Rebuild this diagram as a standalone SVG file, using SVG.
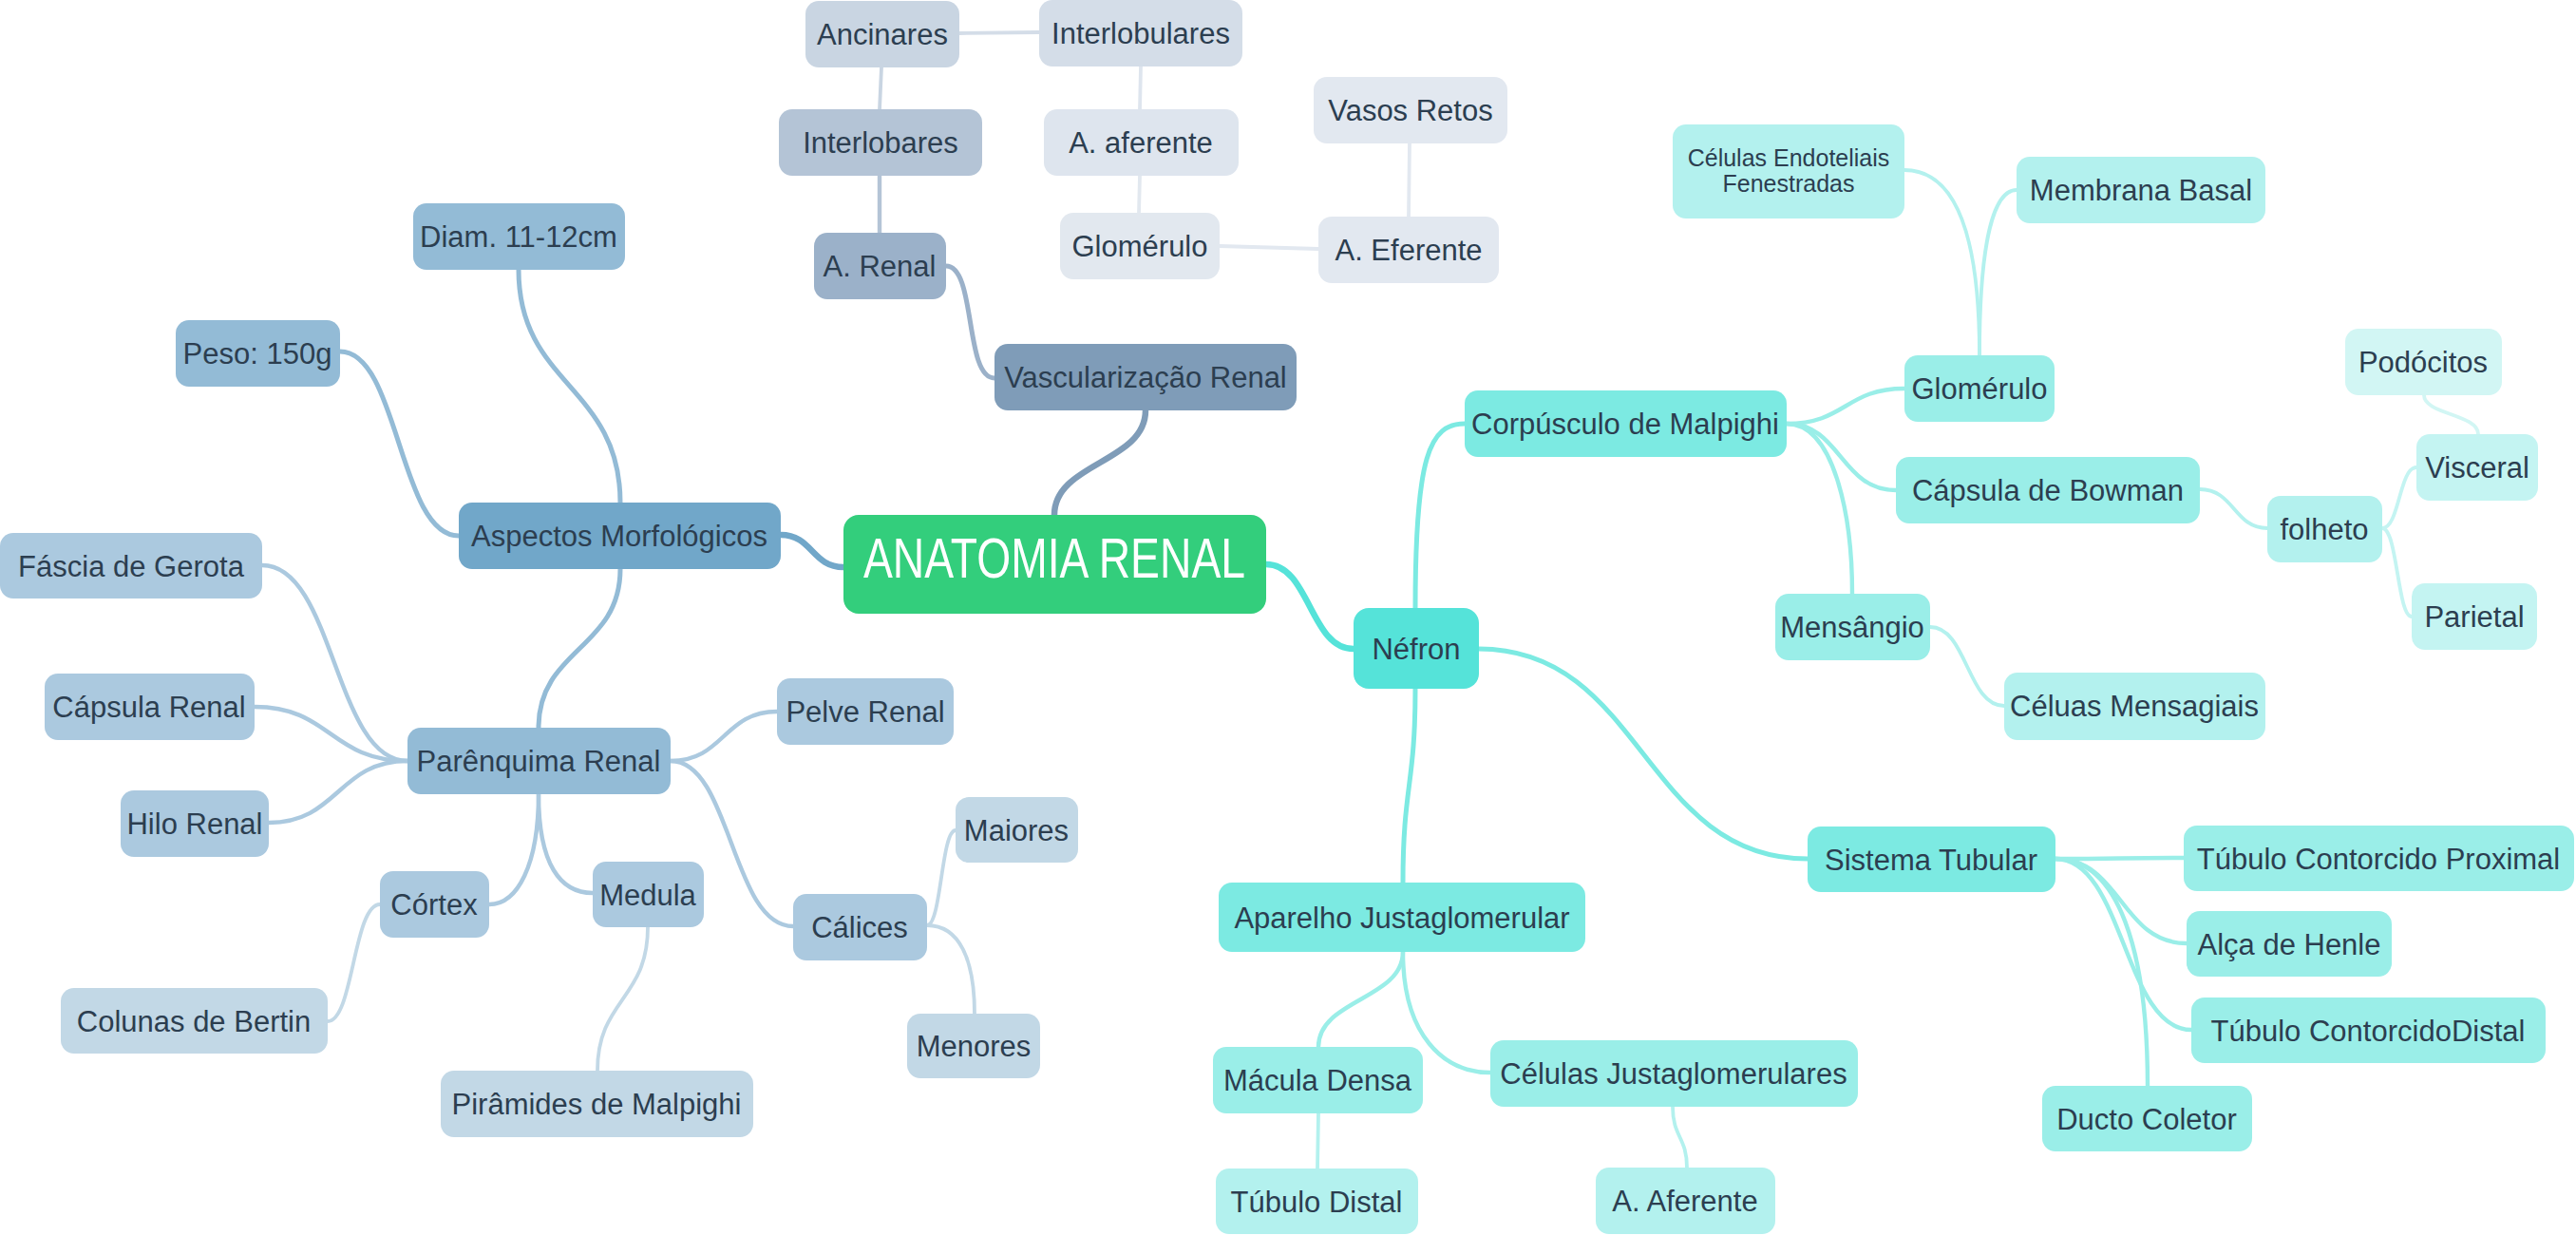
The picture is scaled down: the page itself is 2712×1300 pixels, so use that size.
<svg xmlns="http://www.w3.org/2000/svg" width="2712" height="1300" viewBox="0 0 2712 1300">
<style>
text{font-family:"Liberation Sans",Arial,sans-serif;font-size:31px;fill:#2c3e50;text-anchor:middle}
.c path{fill:none;stroke-linecap:round}
.w1{stroke-width:6.5}.w2{stroke-width:5}.w3{stroke-width:4.4}.w4{stroke-width:3.8}
</style>
<rect width="2712" height="1300" fill="#ffffff"/>
<g id="connectors" class="c">
<path class="w1" stroke="#7F9CB8" d="M1110,542 C1110,487 1206,487 1206,432"/>
<path class="w1" stroke="#71A7C9" d="M888,597 C855,597 855,563 822,563"/>
<path class="w1" stroke="#55E3D9" d="M1333,594 C1379,594 1379,683 1425,683"/>
<path class="w2" stroke="#9BB1C9" d="M1047,398 C1015,398 1028,280 996,280"/>
<path class="w3" stroke="#B4C4D6" d="M926,245 L926,185"/>
<path class="w4" stroke="#C9D5E2" d="M926,115 L928,71"/>
<path class="w4" stroke="#D4DDE8" d="M1010,35 L1094,34"/>
<path class="w4" stroke="#DEE5EE" d="M1201,70 L1200,115"/>
<path class="w4" stroke="#E2E8EF" d="M1200,185 L1199,224"/>
<path class="w4" stroke="#E2E8F0" d="M1284,259 L1388,262"/>
<path class="w4" stroke="#E2E8F0" d="M1483,228 L1484,151"/>
<path class="w2" stroke="#93BBD6" d="M653,529 C653,406 546,406 546,284"/>
<path class="w2" stroke="#93BBD6" d="M483,564 C420,564 420,370 358,370"/>
<path class="w2" stroke="#93BBD6" d="M653,599 C653,683 567,683 567,766"/>
<path class="w3" stroke="#ABC9DF" d="M429,801 C352,801 352,595 276,595"/>
<path class="w3" stroke="#ABC9DF" d="M429,801 C348,801 348,744 268,744"/>
<path class="w3" stroke="#ABC9DF" d="M429,801 C356,801 356,866 283,866"/>
<path class="w3" stroke="#ABC9DF" d="M706,801 C762,801 762,749 818,749"/>
<path class="w3" stroke="#ABC9DF" d="M706,801 C770,801 770,975 835,975"/>
<path class="w3" stroke="#ABC9DF" d="M567,836 C567,910 545,952 515,952"/>
<path class="w3" stroke="#ABC9DF" d="M567,836 C567,910 590,940 624,940"/>
<path class="w4" stroke="#C2D8E6" d="M400,952 C372,952 372,1075 345,1075"/>
<path class="w4" stroke="#C2D8E6" d="M682,976 C682,1052 629,1052 629,1127"/>
<path class="w4" stroke="#C2D8E6" d="M976,974 C991,974 991,874 1006,874"/>
<path class="w4" stroke="#C2D8E6" d="M976,974 C1010,974 1026,1010 1026,1067"/>
<path class="w2" stroke="#7CEAE2" d="M1490,640 C1490,480 1505,446 1542,446"/>
<path class="w2" stroke="#7CEAE2" d="M1490,725 C1490,827 1477,827 1477,929"/>
<path class="w2" stroke="#7CEAE2" d="M1557,683 C1730,683 1730,904 1903,904"/>
<path class="w3" stroke="#9AEEE8" d="M1881,446 C1943,446 1943,409 2005,409"/>
<path class="w3" stroke="#9AEEE8" d="M1881,446 C1938,446 1938,516 1996,516"/>
<path class="w3" stroke="#9AEEE8" d="M1881,446 C1930,446 1950,540 1950,625"/>
<path class="w4" stroke="#B3F1EE" d="M2084,374 C2084,250 2060,179 2005,179"/>
<path class="w4" stroke="#B3F1EE" d="M2084,374 C2084,250 2100,200 2123,200"/>
<path class="w4" stroke="#B3F1EE" d="M2316,515 C2352,515 2352,556 2387,556"/>
<path class="w4" stroke="#C4F4F2" d="M2508,556 C2526,556 2526,492 2544,492"/>
<path class="w4" stroke="#C4F4F2" d="M2508,556 C2524,556 2524,649 2539,649"/>
<path class="w4" stroke="#D2F6F4" d="M2609,457 C2609,436 2552,436 2552,416"/>
<path class="w4" stroke="#B3F1EE" d="M2032,660 C2071,660 2071,743 2110,743"/>
<path class="w3" stroke="#9AEEE8" d="M2164,904 C2232,904 2232,903 2299,903"/>
<path class="w3" stroke="#9AEEE8" d="M2164,904 C2233,904 2233,993 2302,993"/>
<path class="w3" stroke="#9AEEE8" d="M2164,904 C2236,904 2236,1084 2307,1084"/>
<path class="w3" stroke="#9AEEE8" d="M2164,904 C2230,904 2261,1000 2261,1143"/>
<path class="w3" stroke="#9AEEE8" d="M1477,1002 C1477,1052 1388,1052 1388,1102"/>
<path class="w3" stroke="#9AEEE8" d="M1477,1002 C1477,1090 1520,1129 1569,1129"/>
<path class="w4" stroke="#B3F1EE" d="M1388,1172 L1387,1230"/>
<path class="w4" stroke="#B3F1EE" d="M1761,1165 C1761,1197 1776,1197 1776,1229"/>
</g>
<g id="root"><rect x="888" y="542" width="445" height="104" rx="16" fill="#33CE7C"/><text x="1110" y="608" style="font-size:60px;fill:#fff" textLength="402" lengthAdjust="spacingAndGlyphs">ANATOMIA RENAL</text></g>
<g id="vasc"><rect x="1047" y="362" width="318" height="70" rx="14" fill="#7F9CB8"/><text x="1206" y="408">Vascularização Renal</text></g>
<g id="arenal"><rect x="857" y="245" width="139" height="70" rx="14" fill="#9BB1C9"/><text x="926" y="291">A. Renal</text></g>
<g id="interlobares"><rect x="820" y="115" width="214" height="70" rx="14" fill="#B4C4D6"/><text x="927" y="161">Interlobares</text></g>
<g id="ancinares"><rect x="848" y="1" width="162" height="70" rx="14" fill="#C9D5E2"/><text x="929" y="47">Ancinares</text></g>
<g id="interlobulares"><rect x="1094" y="0" width="214" height="70" rx="14" fill="#D4DDE8"/><text x="1201" y="46">Interlobulares</text></g>
<g id="aaferente-v"><rect x="1099" y="115" width="205" height="70" rx="14" fill="#DEE5EE"/><text x="1201" y="161">A. aferente</text></g>
<g id="glomerulo-v"><rect x="1116" y="224" width="168" height="70" rx="14" fill="#E2E8EF"/><text x="1200" y="270">Glomérulo</text></g>
<g id="aeferente"><rect x="1388" y="228" width="190" height="70" rx="14" fill="#E2E8F0"/><text x="1483" y="274">A. Eferente</text></g>
<g id="vasosretos"><rect x="1383" y="81" width="204" height="70" rx="14" fill="#E2E8F0"/><text x="1485" y="127">Vasos Retos</text></g>
<g id="aspectos"><rect x="483" y="529" width="339" height="70" rx="14" fill="#71A7C9"/><text x="652" y="575">Aspectos Morfológicos</text></g>
<g id="diam"><rect x="435" y="214" width="223" height="70" rx="14" fill="#93BBD6"/><text x="546" y="260">Diam. 11-12cm</text></g>
<g id="peso"><rect x="185" y="337" width="173" height="70" rx="14" fill="#93BBD6"/><text x="271" y="383">Peso: 150g</text></g>
<g id="parenquima"><rect x="429" y="766" width="277" height="70" rx="14" fill="#93BBD6"/><text x="567" y="812">Parênquima Renal</text></g>
<g id="fascia"><rect x="0" y="561" width="276" height="69" rx="14" fill="#ABC9DF"/><text x="138" y="607">Fáscia de Gerota</text></g>
<g id="capsularenal"><rect x="47" y="709" width="221" height="70" rx="14" fill="#ABC9DF"/><text x="157" y="755">Cápsula Renal</text></g>
<g id="hilo"><rect x="127" y="832" width="156" height="70" rx="14" fill="#ABC9DF"/><text x="205" y="878">Hilo Renal</text></g>
<g id="pelve"><rect x="818" y="714" width="186" height="70" rx="14" fill="#ABC9DF"/><text x="911" y="760">Pelve Renal</text></g>
<g id="cortex"><rect x="400" y="917" width="115" height="70" rx="14" fill="#ABC9DF"/><text x="457" y="963">Córtex</text></g>
<g id="medula"><rect x="624" y="907" width="117" height="69" rx="14" fill="#ABC9DF"/><text x="682" y="953">Medula</text></g>
<g id="calices"><rect x="835" y="941" width="141" height="70" rx="14" fill="#ABC9DF"/><text x="905" y="987">Cálices</text></g>
<g id="colunas"><rect x="64" y="1040" width="281" height="69" rx="14" fill="#C2D8E6"/><text x="204" y="1086">Colunas de Bertin</text></g>
<g id="piramides"><rect x="464" y="1127" width="329" height="70" rx="14" fill="#C2D8E6"/><text x="628" y="1173">Pirâmides de Malpighi</text></g>
<g id="maiores"><rect x="1006" y="839" width="129" height="69" rx="14" fill="#C2D8E6"/><text x="1070" y="885">Maiores</text></g>
<g id="menores"><rect x="955" y="1067" width="140" height="68" rx="14" fill="#C2D8E6"/><text x="1025" y="1112">Menores</text></g>
<g id="nefron"><rect x="1425" y="640" width="132" height="85" rx="16" fill="#55E3D9"/><text x="1491" y="694">Néfron</text></g>
<g id="corpusculo"><rect x="1542" y="411" width="339" height="70" rx="14" fill="#7CEAE2"/><text x="1711" y="457">Corpúsculo de Malpighi</text></g>
<g id="sistema"><rect x="1903" y="870" width="261" height="69" rx="14" fill="#7CEAE2"/><text x="2033" y="916">Sistema Tubular</text></g>
<g id="aparelho"><rect x="1283" y="929" width="386" height="73" rx="14" fill="#7CEAE2"/><text x="1476" y="977">Aparelho Justaglomerular</text></g>
<g id="glomerulo"><rect x="2005" y="374" width="158" height="70" rx="14" fill="#9AEEE8"/><text x="2084" y="420">Glomérulo</text></g>
<g id="capsulabowman"><rect x="1996" y="481" width="320" height="70" rx="14" fill="#9AEEE8"/><text x="2156" y="527">Cápsula de Bowman</text></g>
<g id="mensangio"><rect x="1869" y="625" width="163" height="70" rx="14" fill="#9AEEE8"/><text x="1950" y="671">Mensângio</text></g>
<g id="celendo"><rect x="1761" y="131" width="244" height="99" rx="14" fill="#B3F1EE"/><text x="1883" y="175" style="font-size:25px">Células Endoteliais</text><text x="1883" y="202" style="font-size:25px">Fenestradas</text></g>
<g id="membrana"><rect x="2123" y="165" width="262" height="70" rx="14" fill="#B3F1EE"/><text x="2254" y="211">Membrana Basal</text></g>
<g id="folheto"><rect x="2387" y="522" width="121" height="70" rx="14" fill="#B3F1EE"/><text x="2447" y="568">folheto</text></g>
<g id="visceral"><rect x="2544" y="457" width="128" height="70" rx="14" fill="#C4F4F2"/><text x="2608" y="503">Visceral</text></g>
<g id="parietal"><rect x="2539" y="614" width="132" height="70" rx="14" fill="#C4F4F2"/><text x="2605" y="660">Parietal</text></g>
<g id="podocitos"><rect x="2469" y="346" width="165" height="70" rx="14" fill="#D2F6F4"/><text x="2551" y="392">Podócitos</text></g>
<g id="celmensagiais"><rect x="2110" y="708" width="275" height="71" rx="14" fill="#B3F1EE"/><text x="2247" y="754">Céluas Mensagiais</text></g>
<g id="tcp"><rect x="2299" y="869" width="411" height="69" rx="14" fill="#9AEEE8"/><text x="2504" y="915">Túbulo Contorcido Proximal</text></g>
<g id="alca"><rect x="2302" y="959" width="216" height="69" rx="14" fill="#9AEEE8"/><text x="2410" y="1005">Alça de Henle</text></g>
<g id="tcd"><rect x="2307" y="1050" width="373" height="69" rx="14" fill="#9AEEE8"/><text x="2493" y="1096">Túbulo ContorcidoDistal</text></g>
<g id="ducto"><rect x="2150" y="1143" width="221" height="69" rx="14" fill="#9AEEE8"/><text x="2260" y="1189">Ducto Coletor</text></g>
<g id="macula"><rect x="1277" y="1102" width="221" height="70" rx="14" fill="#9AEEE8"/><text x="1387" y="1148">Mácula Densa</text></g>
<g id="celjusta"><rect x="1569" y="1095" width="387" height="70" rx="14" fill="#9AEEE8"/><text x="1762" y="1141">Células Justaglomerulares</text></g>
<g id="tubulodistal"><rect x="1280" y="1230" width="213" height="69" rx="14" fill="#B3F1EE"/><text x="1386" y="1276">Túbulo Distal</text></g>
<g id="aaferente"><rect x="1680" y="1229" width="189" height="70" rx="14" fill="#B3F1EE"/><text x="1774" y="1275">A. Aferente</text></g>
</svg>
